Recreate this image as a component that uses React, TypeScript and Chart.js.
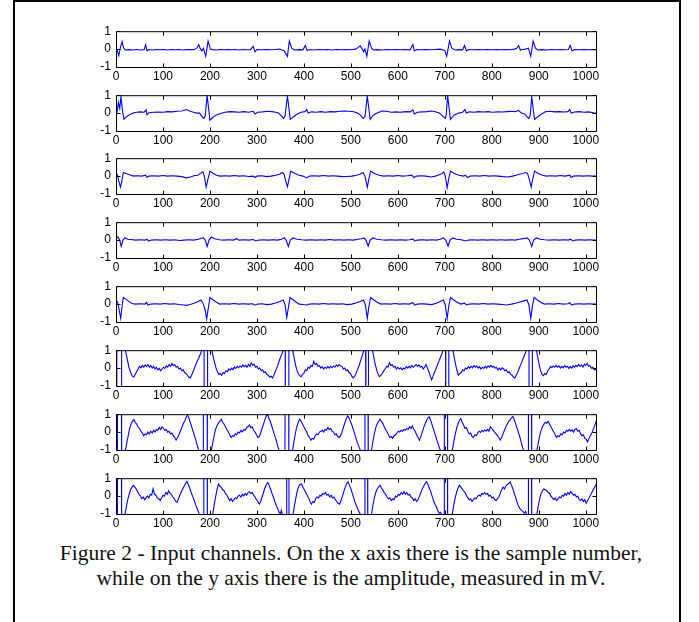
import React, { useEffect, useRef } from "react";
import { Chart, registerables } from "chart.js";

Chart.register(...registerables);

type Pt = [number, number];

// ---------- data ----------
const xTickValues = [0, 100, 200, 300, 400, 500, 600, 700, 800, 900, 1000];
const yTickValues = [-1, 0, 1];
const xMin = 0;
const xMax = 1024;
const yMin = -1;
const yMax = 1;

const ch1: Pt[] = [
  [0, 0.0], [3, -0.1], [6, -0.37], [9, 0.05], [13, 0.42], [16, 0.07], [20, -0.05], [28, -0.03], [36, -0.05], [44, -0.02],
  [52, -0.05], [60, -0.03], [63, 0.25], [66, -0.1], [70, -0.02], [78, -0.05], [86, -0.02], [94, -0.04], [102, -0.02], [110, -0.05],
  [118, -0.02], [126, -0.04], [134, -0.02], [142, -0.05], [150, -0.03], [158, -0.02], [166, -0.03], [172, 0.05], [176, 0.25], [180, 0.0],
  [183, -0.1], [186, 0.05], [191, -0.4], [196, 0.45], [201, 0.0], [206, -0.03], [214, -0.05], [222, -0.02], [230, -0.04], [238, -0.02],
  [246, -0.04], [254, -0.02], [262, -0.05], [270, -0.02], [278, -0.04], [286, -0.03], [292, 0.15], [296, -0.15], [300, -0.02], [310, -0.04],
  [320, -0.02], [330, -0.04], [340, -0.02], [348, 0.0], [354, -0.05], [358, -0.1], [365, -0.4], [369, 0.45], [374, 0.05], [380, -0.05],
  [390, -0.03], [398, -0.04], [403, 0.2], [407, -0.08], [412, -0.02], [420, -0.05], [430, -0.02], [440, -0.04], [450, -0.02], [460, -0.05],
  [470, -0.02], [480, -0.04], [490, -0.02], [500, -0.04], [510, 0.0], [515, 0.08], [520, 0.18], [524, 0.0], [527, -0.15], [530, 0.0],
  [534, -0.4], [539, 0.45], [544, 0.05], [548, -0.05], [556, -0.03], [566, -0.05], [576, -0.02], [586, -0.04], [596, -0.02], [606, -0.04],
  [616, -0.02], [626, -0.04], [632, 0.25], [635, -0.1], [640, -0.02], [650, -0.04], [660, -0.02], [670, -0.04], [680, -0.02], [690, 0.0],
  [697, -0.05], [700, -0.1], [704, -0.4], [710, 0.45], [715, 0.05], [722, -0.05], [730, -0.03], [738, -0.04], [742, 0.2], [746, -0.1],
  [750, -0.02], [760, -0.04], [770, -0.02], [780, -0.04], [790, -0.02], [800, -0.04], [810, -0.02], [820, -0.04], [830, -0.02], [840, -0.04],
  [848, 0.0], [853, 0.05], [857, 0.2], [861, -0.05], [866, -0.02], [872, 0.0], [878, 0.05], [883, -0.4], [888, 0.45], [893, 0.05],
  [898, -0.05], [906, -0.03], [916, -0.05], [926, -0.02], [936, -0.04], [946, -0.02], [956, -0.04], [963, -0.02], [967, 0.2], [971, -0.1],
  [976, -0.02], [986, -0.04], [996, -0.02], [1006, -0.04], [1016, -0.02], [1020, -0.05], [1024, -0.02],
];

const ch2: Pt[] = [
  [0, -0.3], [3, 0.2], [5, 0.6], [8, 0.25], [10.5, 0.93], [14, 0.1], [17, -0.35], [22, -0.2], [28, -0.1], [36, 0.0],
  [44, 0.05], [52, 0.07], [60, 0.05], [64, 0.18], [66, -0.1], [70, 0.02], [80, 0.05], [90, 0.06], [100, 0.05], [110, 0.08],
  [120, 0.07], [130, 0.1], [140, 0.12], [150, 0.2], [158, 0.1], [165, 0.05], [172, 0.0], [178, 0.0], [183, -0.2], [187, -0.3],
  [190, -0.15], [194, 1.0], [200, -0.4], [207, -0.22], [214, -0.1], [222, -0.02], [232, 0.05], [242, 0.08], [252, 0.07], [262, 0.05],
  [272, 0.08], [282, 0.05], [292, 0.1], [296, -0.05], [302, 0.05], [312, 0.07], [322, 0.1], [332, 0.08], [340, 0.05], [346, 0.0],
  [352, -0.15], [357, -0.3], [360, -0.15], [365, 0.95], [371, -0.35], [378, -0.2], [386, -0.05], [394, 0.05], [402, 0.08], [406, 0.2],
  [409, 0.0], [416, 0.07], [426, 0.05], [436, 0.08], [446, 0.05], [456, 0.08], [466, 0.07], [476, 0.1], [486, 0.12], [496, 0.1],
  [506, 0.08], [514, 0.0], [520, -0.1], [526, -0.3], [530, -0.2], [535, 0.95], [541, -0.35], [548, -0.1], [556, 0.0], [566, 0.12],
  [576, 0.1], [586, 0.05], [596, 0.07], [606, 0.05], [616, 0.08], [626, 0.07], [632, 0.18], [635, -0.05], [642, 0.05], [652, 0.07],
  [662, 0.08], [672, 0.12], [680, 0.08], [688, 0.0], [693, -0.1], [697, -0.2], [701, -0.3], [703, -0.1], [706, 1.0], [712, -0.35],
  [720, -0.1], [730, 0.0], [738, 0.05], [743, 0.2], [746, 0.0], [752, 0.07], [762, 0.05], [772, 0.08], [782, 0.06], [792, 0.08],
  [802, 0.05], [812, 0.07], [822, 0.06], [832, 0.08], [842, 0.1], [850, 0.08], [857, 0.15], [863, 0.0], [870, -0.05], [875, -0.2],
  [879, -0.3], [882, -0.1], [885, 0.9], [891, -0.35], [898, -0.2], [906, -0.05], [914, 0.08], [924, 0.1], [934, 0.07], [944, 0.08],
  [954, 0.06], [962, 0.08], [966, 0.2], [969, 0.0], [976, 0.06], [986, 0.08], [996, 0.05], [1006, 0.07], [1016, 0.02], [1020, -0.02],
  [1024, 0.05],
];

const ch3: Pt[] = [
  [0, 0.15], [3, 0.07], [6, -0.28], [9.5, -0.62], [12.5, -0.28], [15.5, 0.2], [21, 0.15], [29, 0.07], [37, 0.0], [45, 0.02],
  [55, 0.0], [63, 0.05], [66, -0.08], [70, 0.0], [80, 0.02], [90, 0.0], [100, 0.03], [110, 0.0], [120, 0.02], [130, 0.0],
  [140, -0.03], [150, -0.1], [158, -0.05], [166, 0.02], [174, 0.05], [180, 0.15], [185, 0.25], [188, 0.0], [192, -0.62], [195.5, -0.2],
  [200, 0.28], [207, 0.15], [214, 0.05], [222, 0.0], [232, 0.02], [242, 0.0], [252, 0.03], [262, 0.0], [272, 0.02], [282, -0.02],
  [292, 0.0], [296, -0.08], [300, 0.0], [310, 0.02], [320, -0.03], [330, 0.0], [340, 0.05], [348, 0.1], [354, 0.2], [358, 0.1],
  [361, -0.25], [365, -0.6], [368, -0.2], [372, 0.28], [381, 0.15], [390, 0.05], [398, 0.0], [406, -0.1], [412, 0.0], [422, 0.02],
  [432, 0.0], [442, 0.03], [452, 0.0], [462, 0.02], [472, 0.0], [482, -0.03], [492, -0.02], [502, 0.0], [512, 0.05], [520, 0.12],
  [526, 0.2], [530, 0.0], [535, -0.62], [538, -0.2], [542, 0.28], [550, 0.15], [560, 0.05], [570, 0.0], [580, 0.02], [590, 0.0],
  [600, 0.03], [610, 0.0], [620, 0.02], [630, 0.05], [634, -0.08], [640, 0.0], [650, 0.02], [660, 0.0], [670, -0.05], [680, 0.0],
  [688, 0.08], [694, 0.15], [698, 0.22], [701, 0.0], [705, -0.65], [708, -0.2], [712, 0.28], [720, 0.15], [730, 0.05], [740, 0.0],
  [744, 0.05], [748, -0.08], [754, 0.0], [764, 0.02], [774, 0.0], [784, 0.03], [794, 0.0], [804, 0.02], [814, 0.0], [824, -0.03],
  [834, -0.05], [844, 0.0], [852, 0.05], [858, 0.1], [866, 0.15], [872, 0.2], [876, 0.15], [880, -0.2], [884, -0.62], [887, -0.2],
  [891, 0.28], [899, 0.15], [908, 0.05], [916, 0.0], [926, 0.02], [936, 0.0], [946, 0.03], [956, 0.0], [966, 0.05], [969, -0.08],
  [974, 0.0], [984, 0.02], [994, 0.0], [1004, 0.02], [1014, 0.0], [1024, 0.02],
];

const ch4: Pt[] = [
  [0, 0.1], [4, 0.18], [8, 0.0], [11, -0.35], [15, 0.0], [19, 0.13], [25, 0.05], [32, 0.03], [42, 0.0], [52, 0.02],
  [62, 0.0], [66, 0.05], [69, -0.05], [75, 0.0], [85, 0.02], [95, 0.0], [105, 0.02], [115, 0.0], [125, 0.02], [135, -0.02],
  [145, 0.0], [155, 0.02], [165, 0.0], [175, 0.05], [182, 0.1], [186, 0.13], [190, 0.0], [194, -0.36], [198, 0.0], [203, 0.17],
  [210, 0.08], [220, 0.02], [230, 0.0], [240, 0.02], [250, 0.0], [257, 0.08], [262, 0.0], [272, 0.02], [282, 0.0], [292, 0.03],
  [298, -0.05], [304, 0.0], [314, 0.02], [324, 0.0], [334, 0.02], [344, 0.0], [352, 0.05], [358, 0.13], [362, 0.0], [367, -0.36],
  [371, 0.0], [377, 0.12], [385, 0.05], [395, 0.02], [405, 0.0], [415, 0.02], [425, 0.0], [435, 0.02], [445, 0.0], [455, 0.03],
  [465, 0.0], [475, 0.02], [485, 0.0], [495, 0.02], [505, 0.0], [515, 0.05], [522, 0.08], [528, 0.12], [532, 0.0], [537, -0.33],
  [541, 0.0], [547, 0.12], [555, 0.05], [565, 0.02], [575, 0.0], [585, 0.02], [595, 0.0], [605, 0.02], [615, 0.0], [625, 0.02],
  [632, 0.05], [636, -0.05], [642, 0.0], [652, 0.02], [662, 0.0], [672, 0.02], [682, 0.0], [690, 0.05], [697, 0.12], [702, 0.0],
  [707, -0.33], [711, 0.0], [717, 0.12], [725, 0.05], [735, 0.02], [745, -0.05], [750, 0.0], [760, 0.02], [770, 0.0], [780, 0.02],
  [790, 0.0], [800, 0.02], [810, 0.0], [820, 0.02], [830, 0.0], [840, 0.02], [850, 0.0], [858, 0.05], [866, 0.08], [875, 0.12],
  [880, 0.0], [885, -0.36], [889, 0.0], [895, 0.12], [903, 0.05], [913, 0.02], [923, 0.0], [933, 0.02], [943, 0.0], [953, 0.02],
  [963, 0.0], [968, 0.05], [972, -0.05], [978, 0.0], [988, 0.02], [998, 0.0], [1008, 0.02], [1018, 0.0], [1024, 0.02],
];

const ch5: Pt[] = [
  [0, 0.23], [3.5, 0.1], [6.5, -0.3], [10, -0.8], [12.5, -0.23], [15.5, 0.37], [21, 0.28], [27, 0.15], [34, 0.03], [42, 0.0],
  [52, 0.02], [62, 0.0], [65, 0.1], [68, -0.05], [74, 0.0], [84, 0.02], [94, 0.0], [104, 0.03], [114, 0.0], [124, 0.02],
  [134, -0.02], [144, -0.05], [150, -0.07], [158, -0.02], [166, 0.05], [175, 0.15], [181, 0.23], [186, 0.0], [189.5, -0.3], [193, -0.83],
  [196.5, -0.23], [200, 0.37], [207, 0.23], [214, 0.1], [221, 0.0], [231, 0.02], [241, 0.0], [251, 0.03], [261, 0.0], [271, 0.02],
  [281, 0.0], [291, 0.02], [296, -0.06], [301, 0.0], [311, 0.02], [321, -0.03], [331, 0.0], [341, 0.08], [349, 0.15], [356, 0.23],
  [360, -0.05], [363.5, -0.75], [367, -0.2], [370.5, 0.37], [377.5, 0.23], [384, 0.1], [390, 0.0], [397, -0.02], [406, -0.05], [412, 0.0],
  [422, 0.02], [432, 0.0], [442, 0.03], [452, 0.0], [462, 0.02], [472, 0.0], [482, 0.02], [492, -0.03], [502, 0.0], [512, 0.08],
  [520, 0.15], [527, 0.23], [531, -0.05], [535, -0.8], [538, -0.2], [542, 0.37], [549, 0.23], [556, 0.1], [564, 0.0], [574, 0.02],
  [584, 0.0], [594, 0.03], [604, 0.0], [614, 0.02], [624, 0.0], [632, 0.08], [636, -0.05], [642, 0.0], [652, 0.02], [662, 0.0],
  [672, -0.03], [682, 0.05], [690, 0.15], [697, 0.23], [701, -0.05], [705, -0.82], [708, -0.2], [712, 0.37], [719, 0.23], [726, 0.1],
  [734, 0.0], [742, 0.05], [746, -0.05], [752, 0.0], [762, 0.02], [772, 0.0], [782, 0.03], [792, 0.0], [802, 0.02], [812, 0.0],
  [822, -0.02], [832, -0.05], [842, 0.0], [850, 0.05], [860, 0.12], [868, 0.18], [875, 0.23], [879, -0.05], [883, -0.8], [886, -0.2],
  [890, 0.37], [897, 0.23], [904, 0.1], [912, 0.0], [922, 0.02], [932, 0.0], [942, 0.03], [952, 0.0], [962, 0.02], [966, 0.08],
  [970, -0.05], [976, 0.0], [986, 0.02], [996, 0.0], [1006, 0.02], [1016, 0.0], [1024, 0.02],
];

const ch6: Pt[] = [
  [0, 5], [1.5, 5], [2, -5], [11.5, -5], [12, 5], [16, 3], [20, 1.0], [24, 0.5], [28, 0.0], [32, -0.3],
  [35, -0.45], [38, -0.5], [41, -0.35], [44, -0.2], [47, -0.05], [50, 0.1], [53, 0.02], [56, 0.15], [59, 0.05], [62, 0.18],
  [65, 0.08], [68, 0.2], [71, 0.05], [74, 0.15], [77, 0.0], [80, 0.1], [83, -0.05], [86, 0.05], [89, -0.1], [92, -0.02],
  [95, -0.15], [98, -0.05], [101, 0.05], [104, -0.02], [107, 0.12], [110, 0.05], [113, 0.2], [116, 0.1], [119, 0.25], [122, 0.15],
  [125, 0.2], [128, 0.05], [131, 0.1], [134, -0.05], [137, 0.0], [140, -0.15], [143, -0.1], [146, -0.25], [149, -0.3], [152, -0.4],
  [155, -0.5], [158, -0.55], [161, -0.4], [164, -0.2], [167, 0.0], [170, 0.2], [173, 0.4], [176, 0.55], [179, 0.75], [182, 0.95],
  [184, 1.3], [187, 5], [188, -5], [194, -5], [195, 5], [199, 3], [204, 1.0], [207, 0.6], [210, 0.3], [213, 0.0],
  [216, -0.2], [219, -0.35], [222, -0.3], [225, -0.4], [228, -0.25], [231, -0.3], [234, -0.15], [237, -0.2], [240, -0.05], [243, -0.12],
  [246, 0.0], [249, -0.08], [252, 0.05], [255, -0.02], [258, 0.1], [261, 0.02], [264, 0.12], [267, 0.05], [270, 0.18], [273, 0.08],
  [276, 0.15], [279, 0.05], [282, 0.2], [285, 0.1], [288, 0.3], [291, 0.15], [294, 0.22], [297, 0.05], [300, 0.1], [303, -0.05],
  [306, 0.0], [309, -0.15], [312, -0.1], [315, -0.25], [318, -0.2], [321, -0.35], [324, -0.4], [327, -0.5], [330, -0.45], [333, -0.55],
  [336, -0.4], [339, -0.2], [342, 0.0], [345, 0.2], [348, 0.45], [351, 0.65], [354, 0.85], [357, 1.05], [359, 1.5], [360, 5],
  [360.5, -5], [367.5, -5], [368, 5], [372, 3], [376, 1.0], [379, 0.6], [382, 0.2], [385, -0.1], [388, -0.3], [391, -0.42],
  [394, -0.48], [397, -0.35], [400, -0.3], [403, -0.1], [406, -0.15], [409, 0.05], [412, 0.0], [415, 0.15], [418, 0.1], [421, 0.38],
  [424, 0.2], [427, 0.25], [430, 0.1], [433, 0.15], [436, 0.0], [439, 0.08], [442, -0.05], [445, 0.05], [448, -0.02], [451, 0.08],
  [454, 0.0], [457, 0.1], [460, 0.02], [463, 0.12], [466, 0.05], [469, 0.18], [472, 0.1], [475, 0.2], [478, 0.12], [481, 0.1],
  [484, -0.05], [487, 0.0], [490, -0.15], [493, -0.1], [496, -0.25], [499, -0.3], [502, -0.45], [505, -0.55], [508, -0.45], [511, -0.3],
  [514, -0.1], [517, 0.1], [520, 0.35], [523, 0.6], [526, 0.85], [529, 1.1], [531, 5], [532, -5], [537, -5], [537.5, 5],
  [542, 3], [546, 1.0], [549, 0.6], [552, 0.2], [555, -0.1], [558, -0.35], [561, -0.48], [564, -0.4], [567, -0.3], [570, -0.15],
  [573, -0.05], [576, 0.1], [579, 0.05], [582, 0.3], [585, 0.15], [588, 0.2], [591, 0.05], [594, 0.1], [597, -0.05], [600, 0.05],
  [603, -0.05], [606, 0.02], [609, -0.1], [612, 0.0], [615, -0.05], [618, 0.08], [621, 0.0], [624, 0.1], [627, 0.02], [630, 0.15],
  [633, 0.05], [636, 0.12], [639, 0.2], [642, 0.1], [645, 0.18], [648, 0.05], [651, 0.1], [654, -0.05], [657, 0.05], [660, 0.2],
  [663, 0.0], [666, -0.2], [669, -0.45], [672, -0.65], [675, -0.45], [678, -0.25], [681, -0.05], [684, 0.15], [687, 0.35], [690, 0.55],
  [693, 0.75], [696, 0.95], [699, 1.3], [701.5, 5], [702, -5], [708, -5], [708.5, 5], [713, 3], [717, 1.0], [720, 0.6],
  [723, 0.2], [726, -0.15], [729, -0.4], [732, -0.3], [735, -0.25], [738, -0.1], [741, -0.15], [744, 0.0], [747, -0.05], [750, 0.08],
  [753, 0.0], [756, 0.1], [759, 0.02], [762, 0.15], [765, 0.05], [768, 0.12], [771, 0.0], [774, 0.08], [777, -0.05], [780, 0.05],
  [783, -0.02], [786, 0.1], [789, 0.0], [792, 0.12], [795, 0.05], [798, 0.15], [801, 0.05], [804, 0.1], [807, 0.0], [810, 0.05],
  [813, -0.1], [816, 0.0], [819, -0.1], [822, 0.02], [825, -0.05], [828, -0.15], [831, -0.1], [834, -0.25], [837, -0.2], [840, -0.35],
  [843, -0.4], [846, -0.5], [849, -0.55], [852, -0.4], [855, -0.25], [858, -0.05], [861, 0.15], [864, 0.35], [867, 0.55], [870, 0.75],
  [873, 0.95], [876, 1.3], [879, 5], [879.5, -5], [886, -5], [886.5, 5], [891, 3], [895, 1.0], [898, 0.6], [901, 0.2],
  [904, -0.15], [907, -0.35], [910, -0.42], [913, -0.3], [916, -0.35], [919, -0.15], [922, -0.05], [925, 0.1], [928, 0.02], [931, 0.12],
  [934, 0.05], [937, 0.15], [940, 0.05], [943, 0.12], [946, 0.0], [949, 0.1], [952, 0.02], [955, 0.15], [958, 0.05], [961, 0.1],
  [964, -0.02], [967, 0.08], [970, 0.0], [973, 0.12], [976, 0.05], [979, 0.15], [982, 0.08], [985, 0.2], [988, 0.1], [991, 0.18],
  [994, 0.05], [997, 0.22], [1000, 0.15], [1003, 0.28], [1006, 0.1], [1009, 0.15], [1012, 0.0], [1015, 0.05], [1018, -0.1], [1021, -0.05],
  [1024, -0.15],
];

const ch7: Pt[] = [
  [0, -5], [2.5, -5], [3, 5], [11.5, 5], [12, -5], [16, -3], [20, -1.0], [23, -0.6], [26, -0.2], [29, 0.2],
  [32, 0.45], [35, 0.6], [38, 0.7], [41, 0.55], [44, 0.45], [47, 0.3], [50, 0.2], [53, 0.05], [56, -0.05], [59, -0.2],
  [62, -0.1], [65, -0.15], [68, 0.0], [71, -0.1], [74, 0.05], [77, -0.05], [80, 0.1], [83, 0.0], [86, 0.15], [89, 0.1],
  [92, 0.25], [95, 0.15], [98, 0.3], [101, 0.2], [104, 0.1], [107, 0.15], [110, 0.0], [113, 0.05], [116, -0.1], [119, -0.05],
  [122, -0.2], [125, -0.3], [128, -0.45], [131, -0.3], [134, -0.15], [137, 0.05], [140, 0.25], [143, 0.45], [146, 0.6], [149, 0.8],
  [152, 0.95], [155, 0.8], [158, 0.55], [161, 0.3], [164, 0.05], [167, -0.2], [170, -0.45], [173, -0.75], [176, -1.0], [180, -3],
  [185.5, -5], [186, 5], [194, 5], [194.5, -5], [199, -3], [203, -1.0], [206, -0.6], [209, -0.2], [212, 0.15], [215, 0.35],
  [218, 0.5], [221, 0.6], [224, 0.72], [227, 0.55], [230, 0.45], [233, 0.3], [236, 0.15], [239, 0.0], [242, -0.15], [245, -0.3],
  [248, -0.2], [251, -0.25], [254, -0.1], [257, -0.15], [260, 0.0], [263, -0.05], [266, 0.1], [269, 0.02], [272, 0.15], [275, 0.1],
  [278, 0.25], [281, 0.3], [284, 0.4], [287, 0.25], [290, 0.3], [293, 0.1], [296, 0.0], [299, -0.15], [302, -0.3], [305, -0.25],
  [308, -0.05], [311, 0.2], [314, 0.45], [317, 0.7], [320, 0.9], [323, 0.95], [326, 0.75], [329, 0.55], [332, 0.3], [335, 0.05],
  [338, -0.2], [341, -0.45], [344, -0.75], [347, -1.0], [352, -3], [359.5, -5], [360, 5], [367.5, 5], [368, -5], [372, -3],
  [376, -1.0], [379, -0.5], [382, -0.05], [385, 0.3], [388, 0.55], [391, 0.72], [394, 0.6], [397, 0.45], [400, 0.3], [403, 0.15],
  [406, 0.0], [409, -0.2], [412, -0.3], [415, -0.45], [418, -0.35], [421, -0.4], [424, -0.2], [427, -0.1], [430, -0.15], [433, 0.0],
  [436, 0.05], [439, 0.1], [442, 0.0], [445, 0.15], [448, 0.1], [451, 0.25], [454, 0.15], [457, 0.2], [460, 0.05], [463, 0.0],
  [466, -0.15], [469, -0.1], [472, -0.25], [475, -0.3], [478, -0.2], [481, 0.0], [484, 0.25], [487, 0.5], [490, 0.75], [493, 0.9],
  [496, 0.8], [499, 0.6], [502, 0.4], [505, 0.15], [508, -0.1], [511, -0.35], [514, -0.6], [517, -0.8], [520, -1.0], [524, -3],
  [529.5, -5], [530, 5], [536.5, 5], [537, -5], [541, -3], [544, -1.0], [547, -0.5], [550, -0.1], [553, 0.25], [556, 0.45],
  [559, 0.6], [562, 0.72], [565, 0.6], [568, 0.5], [571, 0.3], [574, 0.15], [577, 0.0], [580, -0.15], [583, -0.3], [586, -0.25],
  [589, -0.35], [592, -0.2], [595, -0.15], [598, -0.05], [601, 0.05], [604, 0.0], [607, 0.1], [610, 0.05], [613, 0.15], [616, 0.1],
  [619, 0.2], [622, 0.15], [625, 0.3], [628, 0.2], [631, 0.35], [634, 0.15], [637, 0.05], [640, -0.15], [643, -0.3], [646, -0.45],
  [649, -0.25], [652, 0.0], [655, 0.25], [658, 0.45], [661, 0.65], [664, 0.8], [667, 0.85], [670, 0.65], [673, 0.4], [676, 0.15],
  [679, -0.1], [682, -0.35], [685, -0.6], [688, -0.85], [691, -1.05], [694, -3], [698.5, -5], [699, 5], [705.5, 5], [706, -5],
  [711, -3], [716, -1.0], [719, -0.55], [722, -0.15], [725, 0.2], [728, 0.45], [731, 0.65], [734, 0.75], [737, 0.55], [740, 0.4],
  [743, 0.2], [746, 0.25], [749, 0.05], [752, -0.1], [755, -0.05], [758, -0.25], [761, -0.3], [764, -0.15], [767, -0.2], [770, -0.05],
  [773, 0.05], [776, -0.02], [779, 0.1], [782, 0.02], [785, 0.12], [788, 0.05], [791, 0.15], [794, 0.05], [797, 0.3], [800, 0.2],
  [803, 0.1], [806, 0.0], [809, -0.1], [812, -0.2], [815, -0.3], [818, -0.45], [821, -0.3], [824, -0.1], [827, 0.1], [830, 0.3],
  [833, 0.45], [836, 0.6], [839, 0.7], [842, 0.8], [845, 0.88], [848, 0.7], [851, 0.45], [854, 0.2], [857, -0.05], [860, -0.3],
  [863, -0.6], [866, -0.9], [869, -1.1], [873, -3], [877.5, -5], [878, 5], [884.5, 5], [885, -5], [890, -3], [896, -1.0],
  [899, -0.6], [902, -0.2], [905, 0.1], [908, 0.3], [911, 0.45], [914, 0.55], [917, 0.5], [920, 0.6], [923, 0.45], [926, 0.3],
  [929, 0.15], [932, 0.0], [935, -0.15], [938, -0.3], [941, -0.2], [944, -0.25], [947, -0.1], [950, -0.15], [953, 0.0], [956, -0.05],
  [959, 0.1], [962, 0.05], [965, 0.15], [968, 0.05], [971, 0.12], [974, 0.0], [977, 0.15], [980, 0.2], [983, 0.05], [986, 0.1],
  [989, -0.1], [992, -0.2], [995, -0.15], [998, -0.35], [1001, -0.4], [1004, -0.55], [1007, -0.35], [1010, -0.2], [1013, -0.05], [1016, 0.15],
  [1019, 0.35], [1022, 0.6], [1024, 0.7],
];

const ch8: Pt[] = [
  [0, -5], [2.5, -5], [3, 5], [11.5, 5], [12, -5], [16, -3], [19, -1.0], [22, -0.6], [25, -0.2], [28, 0.1],
  [31, 0.35], [34, 0.5], [37, 0.6], [40, 0.5], [43, 0.4], [46, 0.25], [49, 0.1], [52, 0.0], [55, -0.15], [58, -0.05],
  [61, -0.2], [64, -0.1], [67, 0.0], [70, -0.1], [73, 0.1], [76, 0.05], [79, 0.4], [82, 0.1], [85, 0.05], [88, -0.1],
  [91, -0.15], [94, -0.25], [97, -0.1], [100, 0.05], [103, 0.0], [106, 0.2], [109, 0.1], [112, 0.3], [115, 0.15], [118, 0.1],
  [121, -0.05], [124, -0.15], [127, -0.3], [130, -0.35], [133, -0.15], [136, 0.05], [139, 0.25], [142, 0.4], [145, 0.55], [148, 0.7],
  [151, 0.82], [154, 0.65], [157, 0.45], [160, 0.2], [163, 0.0], [166, -0.2], [169, -0.45], [172, -0.65], [175, -0.85], [178, -1.05],
  [182, -3], [186.5, -5], [187, 5], [194, 5], [194.5, -5], [200, -3], [206, -1.0], [209, -0.5], [212, -0.05], [215, 0.35],
  [218, 0.68], [221, 0.55], [224, 0.5], [227, 0.35], [230, 0.3], [233, 0.15], [236, 0.05], [239, -0.1], [242, -0.25], [245, -0.15],
  [248, -0.3], [251, -0.2], [254, -0.1], [257, -0.15], [260, 0.0], [263, 0.05], [266, -0.05], [269, 0.1], [272, 0.02], [275, 0.15],
  [278, 0.05], [281, 0.2], [284, 0.25], [287, 0.15], [290, 0.2], [293, 0.05], [296, -0.05], [299, -0.2], [302, -0.3], [305, -0.45],
  [308, -0.3], [311, -0.05], [314, 0.2], [317, 0.45], [320, 0.65], [323, 0.76], [326, 0.6], [329, 0.4], [332, 0.15], [335, -0.05],
  [338, -0.3], [341, -0.5], [344, -0.7], [347, -0.9], [350, -1.0], [352, -0.8], [355, -1.1], [359, -3], [363, -5], [363.5, 5],
  [368, 5], [368.5, -5], [373, -3], [377, -1.0], [380, -0.5], [383, -0.1], [386, 0.3], [389, 0.55], [392, 0.65], [395, 0.68],
  [398, 0.5], [401, 0.35], [404, 0.2], [407, 0.05], [410, -0.1], [413, -0.3], [416, -0.45], [419, -0.3], [422, -0.35], [425, -0.15],
  [428, -0.05], [431, -0.1], [434, 0.05], [437, 0.0], [440, 0.15], [443, 0.1], [446, 0.2], [449, 0.05], [452, 0.1], [455, -0.05],
  [458, 0.05], [461, -0.1], [464, -0.05], [467, -0.2], [470, -0.3], [473, -0.4], [476, -0.45], [479, -0.25], [482, 0.0], [485, 0.25],
  [488, 0.5], [491, 0.7], [494, 0.8], [497, 0.6], [500, 0.4], [503, 0.15], [506, -0.1], [509, -0.35], [512, -0.55], [515, -0.75],
  [518, -0.9], [521, -1.05], [525, -3], [529.5, -5], [530, 5], [535.5, 5], [536, -5], [540, -3], [544, -1.0], [547, -0.5],
  [550, -0.1], [553, 0.2], [556, 0.4], [559, 0.5], [562, 0.6], [565, 0.45], [568, 0.35], [571, 0.2], [574, 0.1], [577, -0.05],
  [580, -0.15], [583, -0.1], [586, -0.25], [589, -0.15], [592, -0.2], [595, 0.0], [598, -0.05], [601, 0.1], [604, 0.05], [607, 0.2],
  [610, 0.1], [613, 0.25], [616, 0.1], [619, 0.2], [622, 0.05], [625, 0.1], [628, -0.05], [631, -0.1], [634, -0.25], [637, -0.15],
  [640, -0.3], [643, -0.2], [646, 0.0], [649, 0.2], [652, 0.4], [655, 0.55], [658, 0.7], [661, 0.8], [664, 0.65], [667, 0.45],
  [670, 0.25], [673, 0.0], [676, -0.25], [679, -0.45], [682, -0.6], [685, -0.8], [688, -0.95], [691, -0.9], [694, -1.1], [698.5, -5],
  [699, 5], [705.5, 5], [706, -5], [711, -3], [716, -1.0], [719, -0.5], [722, -0.1], [725, 0.2], [728, 0.45], [731, 0.6],
  [734, 0.5], [737, 0.4], [740, 0.3], [743, 0.2], [746, 0.05], [749, -0.1], [752, -0.2], [755, -0.15], [758, -0.3], [761, -0.2],
  [764, -0.1], [767, -0.15], [770, 0.0], [773, 0.05], [776, 0.0], [779, 0.15], [782, 0.1], [785, 0.2], [788, 0.1], [791, 0.15],
  [794, 0.0], [797, 0.05], [800, -0.1], [803, -0.05], [806, -0.2], [809, -0.25], [812, -0.15], [815, -0.05], [818, 0.15], [821, 0.35],
  [824, 0.5], [827, 0.4], [830, 0.55], [833, 0.65], [836, 0.7], [839, 0.8], [842, 0.6], [845, 0.4], [848, 0.15], [851, -0.1],
  [854, -0.35], [857, -0.55], [860, -0.7], [863, -0.8], [866, -0.85], [869, -0.95], [872, -0.85], [875, -1.1], [877.5, -5], [878, 5],
  [884.5, 5], [885, -5], [890, -3], [896, -1.0], [899, -0.55], [902, -0.15], [905, 0.15], [908, 0.3], [911, 0.4], [914, 0.35],
  [917, 0.3], [920, 0.2], [923, 0.15], [926, 0.0], [929, -0.1], [932, -0.2], [935, -0.1], [938, -0.25], [941, -0.15], [944, -0.05],
  [947, -0.1], [950, 0.05], [953, 0.0], [956, 0.15], [959, 0.05], [962, 0.2], [965, 0.1], [968, 0.25], [971, 0.15], [974, 0.05],
  [977, 0.1], [980, -0.05], [983, 0.0], [986, -0.2], [989, -0.25], [992, -0.15], [995, -0.3], [998, -0.2], [1001, -0.4], [1004, -0.25],
  [1007, -0.1], [1010, 0.05], [1013, 0.2], [1016, 0.35], [1019, 0.5], [1022, 0.65], [1024, 0.75],
];

const channels: Pt[][] = [ch1, ch2, ch3, ch4, ch5, ch6, ch7, ch8];

const captionLines = [
  "Figure 2 - Input channels. On the x axis there is the sample number,",
  "while on the y axis there is the amplitude, measured in mV.",
];

// ---------- layout ----------
const PLOT_LEFT = 116;
const PLOT_WIDTH = 481;
const PLOT_HEIGHT = 38;
const PLOT_TOPS = [29, 93, 156, 220, 284, 348, 412, 476];
const CANVAS_LEFT = 60;
const PAD_TOP = 10;
const PAD_RIGHT = 20;
const X_AXIS_H = 18;
const Y_AXIS_W = PLOT_LEFT - CANVAS_LEFT;
const CANVAS_W = Y_AXIS_W + PLOT_WIDTH + PAD_RIGHT;
const CANVAS_H = PAD_TOP + PLOT_HEIGHT + X_AXIS_H;
const TICK_LEN = 4;
const TICK_FONT = '"Liberation Sans", Arial, Helvetica, sans-serif';

const boxPlugin = {
  id: "matlabBox",
  afterDatasetsDraw(chart: any) {
    const { ctx, chartArea: a, scales } = chart;
    const L = a.left + 0.5;
    const R = a.right - 0.5;
    const T = a.top + 0.5;
    const B = a.bottom + 0.5;
    ctx.save();
    ctx.strokeStyle = "#000";
    ctx.lineWidth = 1;
    ctx.beginPath();
    ctx.rect(L, T, R - L, B - T);
    for (const v of xTickValues) {
      const px = Math.round(scales.x.getPixelForValue(v)) + 0.5;
      ctx.moveTo(px, B);
      ctx.lineTo(px, B - TICK_LEN);
      ctx.moveTo(px, T);
      ctx.lineTo(px, T + TICK_LEN);
    }
    for (const v of yTickValues) {
      const py = Math.round(scales.y.getPixelForValue(v)) + 0.5;
      ctx.moveTo(L, py);
      ctx.lineTo(L + TICK_LEN, py);
      ctx.moveTo(R, py);
      ctx.lineTo(R - TICK_LEN, py);
    }
    ctx.stroke();
    ctx.restore();
  },
};

function Subplot({ data, top }: { data: Pt[]; top: number }) {
  const ref = useRef<HTMLCanvasElement | null>(null);
  useEffect(() => {
    if (!ref.current) return;
    const chart = new Chart(ref.current, {
      type: "line",
      data: {
        datasets: [
          {
            data: data.map(([x, y]) => ({ x, y })),
            borderColor: "#0000ff",
            borderWidth: 1.1,
            pointRadius: 0,
            tension: 0,
            fill: false,
          },
        ],
      },
      options: {
        responsive: false,
        animation: false,
        events: [],
        layout: { padding: { left: 0, right: PAD_RIGHT, top: PAD_TOP, bottom: 0 } },
        plugins: { legend: { display: false }, tooltip: { enabled: false }, title: { display: false } },
        scales: {
          x: {
            type: "linear",
            position: "bottom",
            min: xMin,
            max: xMax,
            grid: { display: false, drawTicks: false },
            border: { display: false },
            afterBuildTicks: (s: any) => {
              s.ticks = xTickValues.map((v) => ({ value: v }));
            },
            afterFit: (s: any) => {
              s.height = X_AXIS_H;
            },
            ticks: {
              color: "#000",
              font: { family: TICK_FONT, size: 12 },
              padding: 2,
              maxRotation: 0,
              autoSkip: false,
              callback: (v: any) => String(v),
            },
          },
          y: {
            type: "linear",
            position: "left",
            min: yMin,
            max: yMax,
            grid: { display: false, drawTicks: false },
            border: { display: false },
            afterBuildTicks: (s: any) => {
              s.ticks = yTickValues.map((v) => ({ value: v }));
            },
            afterFit: (s: any) => {
              s.width = Y_AXIS_W;
            },
            ticks: {
              color: "#000",
              font: { family: TICK_FONT, size: 12 },
              padding: 5,
              autoSkip: false,
              callback: (v: any) => String(v),
            },
          },
        },
      } as any,
      plugins: [boxPlugin],
    });
    return () => chart.destroy();
  }, [data]);
  return (
    <canvas
      ref={ref}
      width={CANVAS_W}
      height={CANVAS_H}
      style={{
        position: "absolute",
        left: CANVAS_LEFT,
        top: top - PAD_TOP,
        width: CANVAS_W,
        height: CANVAS_H,
      }}
    />
  );
}

export default function App() {
  return (
    <div
      style={{
        position: "absolute",
        left: 0,
        top: 0,
        width: 699,
        height: 622,
        overflow: "hidden",
        background: "#fff",
      }}
    >
      <div
        style={{
          position: "absolute",
          left: 13,
          top: 0,
          width: 668,
          height: 622,
          boxSizing: "border-box",
          borderLeft: "2px solid #000",
          borderRight: "2px solid #000",
          borderTop: "2px solid #000",
        }}
      />
      {channels.map((ch, i) => (
        <Subplot key={i} data={ch} top={PLOT_TOPS[i]} />
      ))}
      <div
        style={{
          position: "absolute",
          left: 0,
          top: 541,
          width: 702,
          textAlign: "center",
          fontFamily: '"Liberation Serif", "Times New Roman", serif',
          fontSize: 21.5,
          lineHeight: "25px",
          color: "#111",
          whiteSpace: "nowrap",
        }}
      >
        {captionLines.map((l, i) => (
          <div key={i}>{l}</div>
        ))}
      </div>
    </div>
  );
}
